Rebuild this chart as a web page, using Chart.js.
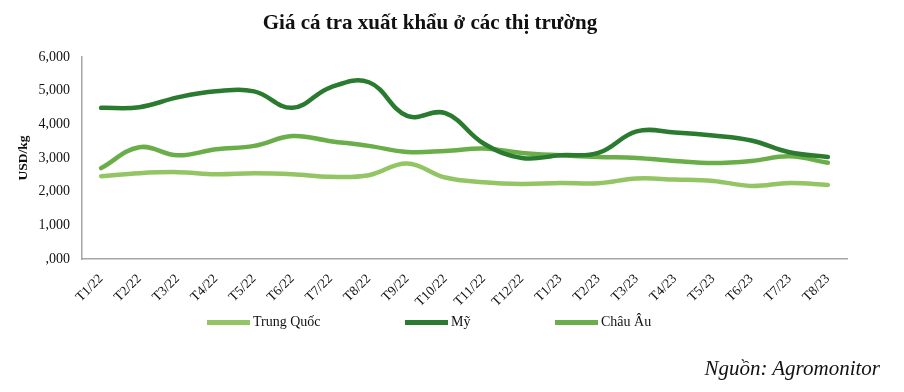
<!DOCTYPE html>
<html>
<head>
<meta charset="utf-8">
<script src="https://cdn.jsdelivr.net/npm/chart.js@4/dist/chart.umd.min.js"></script>
<style>
  body { margin: 0; background: #fff; }
  #wrap { position: relative; width: 904px; height: 392px; font-family: "Liberation Serif", "Times New Roman", serif; }
  #title { position: absolute; left: 0; width: 860px; top: 10px; text-align: center; font-weight: bold; font-size: 21px; color: #111; }
  .leg { position: absolute; top: 314px; font-size: 14px; color: #111; display: flex; align-items: center; }
  .leg span.sw { display: inline-block; width: 43px; height: 5px; margin-right: 3px; }
  #source { position: absolute; right: 24px; top: 356px; font-style: italic; font-size: 21px; color: #111; }
</style>
</head>
<body>
<div id="wrap">
  <canvas id="chart"></canvas>
  <div id="title">Giá cá tra xuất khẩu ở các thị trường</div>
  <div class="leg" style="left:207px"><span class="sw" style="background:#93c565"></span>Trung Quốc</div>
  <div class="leg" style="left:405px"><span class="sw" style="background:#2a7b2f"></span>Mỹ</div>
  <div class="leg" style="left:555px"><span class="sw" style="background:#6aae4a"></span>Châu Âu</div>
  <div id="source">Nguồn: Agromonitor</div>
</div>
<script>
// ===== Data =====
const months = ['T1/22', 'T2/22', 'T3/22', 'T4/22', 'T5/22', 'T6/22', 'T7/22', 'T8/22', 'T9/22', 'T10/22',
  'T11/22', 'T12/22', 'T1/23', 'T2/23', 'T3/23', 'T4/23', 'T5/23', 'T6/23', 'T7/23', 'T8/23'];
const trungQuoc = [2460, 2550, 2580, 2520, 2550, 2520, 2440, 2490, 2840, 2420,
  2280, 2230, 2260, 2250, 2390, 2360, 2320, 2170, 2260, 2200];
const my = [4490, 4510, 4800, 4980, 4980, 4490, 5100, 5250, 4250, 4330,
  3430, 3000, 3080, 3150, 3790, 3760, 3670, 3520, 3170, 3030];
const chauAu = [2700, 3320, 3080, 3260, 3360, 3650, 3500, 3360, 3180, 3210,
  3280, 3150, 3080, 3030, 3000, 2910, 2850, 2910, 3050, 2860];
const yTicks = [0, 1000, 2000, 3000, 4000, 5000, 6000];

const serif = '"Liberation Serif", "Times New Roman", serif';

function line(label, data, color) {
  return {
    label: label,
    data: data,
    borderColor: color,
    backgroundColor: color,
    borderWidth: 4.5,
    pointRadius: 0,
    tension: 0.4,
    borderCapStyle: 'round'
  };
}

// ===== Chart =====
const chart = new Chart(document.getElementById('chart'), {
  type: 'line',
  data: {
    labels: months,
    datasets: [
      line('Trung Quốc', trungQuoc, '#93c565'),
      line('Mỹ', my, '#2a7b2f'),
      line('Châu Âu', chauAu, '#6aae4a')
    ]
  },
  options: {
    responsive: true,
    maintainAspectRatio: false,
    animation: false,
    layout: { padding: { top: 57, right: 57, left: 0, bottom: 0 } },
    plugins: {
      legend: { display: false },
      title: { display: false },
      tooltip: { enabled: false }
    },
    scales: {
      x: {
        offset: true,
        grid: { display: false },
        border: { display: true, color: '#a6a6a6', width: 1.5 },
        ticks: {
          maxRotation: 45,
          minRotation: 45,
          color: '#111',
          font: { family: serif, size: 13.5 },
          padding: 4
        },
        afterFit: scale => { scale.height = 133; }
      },
      y: {
        min: 0,
        max: 6000,
        afterBuildTicks: scale => { scale.ticks = yTicks.map(v => ({ value: v })); },
        grid: { display: false },
        border: { display: true, color: '#a6a6a6', width: 1.5 },
        ticks: {
          color: '#111',
          font: { family: serif, size: 14 },
          padding: 4,
          callback: v => v === 0 ? ',000' : v.toLocaleString('en-US')
        },
        title: {
          display: true,
          text: 'USD/kg',
          color: '#111',
          font: { family: serif, size: 13.5, weight: 'bold' },
          padding: { top: 15, bottom: 0 }
        },
        afterFit: scale => { scale.width = 82; }
      }
    }
  }
});
</script>
</body>
</html>
